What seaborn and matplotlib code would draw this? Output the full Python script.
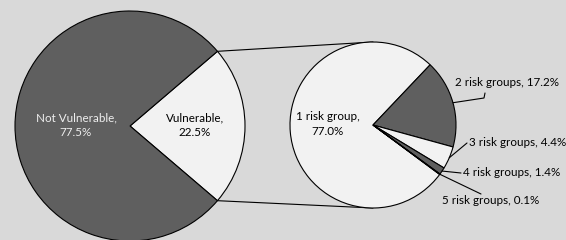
import numpy as np
import matplotlib
matplotlib.use("Agg")
import matplotlib.pyplot as plt
import seaborn as sns

# data
outer_labels = ["Vulnerable", "Not Vulnerable"]
outer_values = [22.5, 77.5]
inner_labels = ["1 risk group", "2 risk groups", "3 risk groups", "4 risk groups", "5 risk groups"]
inner_values = [77.0, 17.2, 4.4, 1.4, 0.1]

sns.set_theme(style="white")
plt.rcParams["font.family"] = ["Lato", "DejaVu Sans"]

bg = "#d9d9d9"
dark = "#5f5f5f"
light = "#f2f2f2"

W, H = 566, 240
fig = plt.figure(figsize=(W / 100, H / 100), dpi=100, facecolor=bg)
ax = fig.add_axes([0, 0, 1, 1])
ax.set_facecolor(bg)

fs = 8.4
ls = 1.35
wp = dict(edgecolor="black", linewidth=0.8)

# left pie (vulnerable slice centred on the right)
c1, r1 = (130, 114), 115
span = outer_values[0] / sum(outer_values) * 360
ax.pie(outer_values, colors=[light, dark], startangle=-span / 2,
       center=c1, radius=r1, wedgeprops=wp, frame=True)
ax.text(c1[0] + 65, c1[1] + 1, f"{outer_labels[0]},\n{outer_values[0]:.1f}%",
        ha="center", va="center", fontsize=fs, color="black", linespacing=ls)
ax.text(c1[0] - 54, c1[1] + 1, f"{outer_labels[1]},\n{outer_values[1]:.1f}%",
        ha="center", va="center", fontsize=fs, color="#eeeeee", linespacing=ls)

# right pie (breakdown of vulnerable)
c2, r2 = (373, 115), 83
tot = sum(inner_values)
wedges, _ = ax.pie(inner_values, colors=[light, dark, light, dark, "#222222"],
                   startangle=46.5 + inner_values[0] / tot * 360, counterclock=False,
                   center=c2, radius=r2, wedgeprops=wp, frame=True)
ax.set_xlim(0, W)
ax.set_ylim(0, H)
ax.set_aspect("equal")
ax.axis("off")

# connector lines between pies
a = np.deg2rad(span / 2)
for s in (1, -1):
    p = (c1[0] + r1 * np.cos(a), c1[1] + s * r1 * np.sin(a))
    q = (c2[0], c2[1] + s * r2)
    ax.plot([p[0], q[0]], [p[1], q[1]], color="black", lw=0.8, zorder=0)

ax.text(c2[0] - 45, c2[1] + 1, f"{inner_labels[0]},\n{inner_values[0]:.1f}%",
        ha="center", va="center", fontsize=fs, color="black", linespacing=ls)

# outside labels with leader lines (pixel positions, y from top)
ann = [
    (1, [(484, 98), (485, 93)], (455, 82)),
    (2, [(467, 143)], (469, 143)),
    (3, [(461, 173)], (463, 173)),
    (4, [(481, 194)], (442, 200)),
]
for i, pts, tpos in ann:
    w = wedges[i]
    mid = np.deg2rad((w.theta1 + w.theta2) / 2)
    ex, ey = c2[0] + r2 * np.cos(mid), c2[1] + r2 * np.sin(mid)
    xs = [ex] + [p[0] for p in pts]
    ys = [ey] + [H - p[1] for p in pts]
    ax.plot(xs, ys, color="black", lw=0.8)
    ax.text(tpos[0], H - tpos[1], f"{inner_labels[i]}, {inner_values[i]:.1f}%",
            ha="left", va="center", fontsize=fs, color="black")

fig.savefig("out.png", dpi=100, facecolor=bg)
